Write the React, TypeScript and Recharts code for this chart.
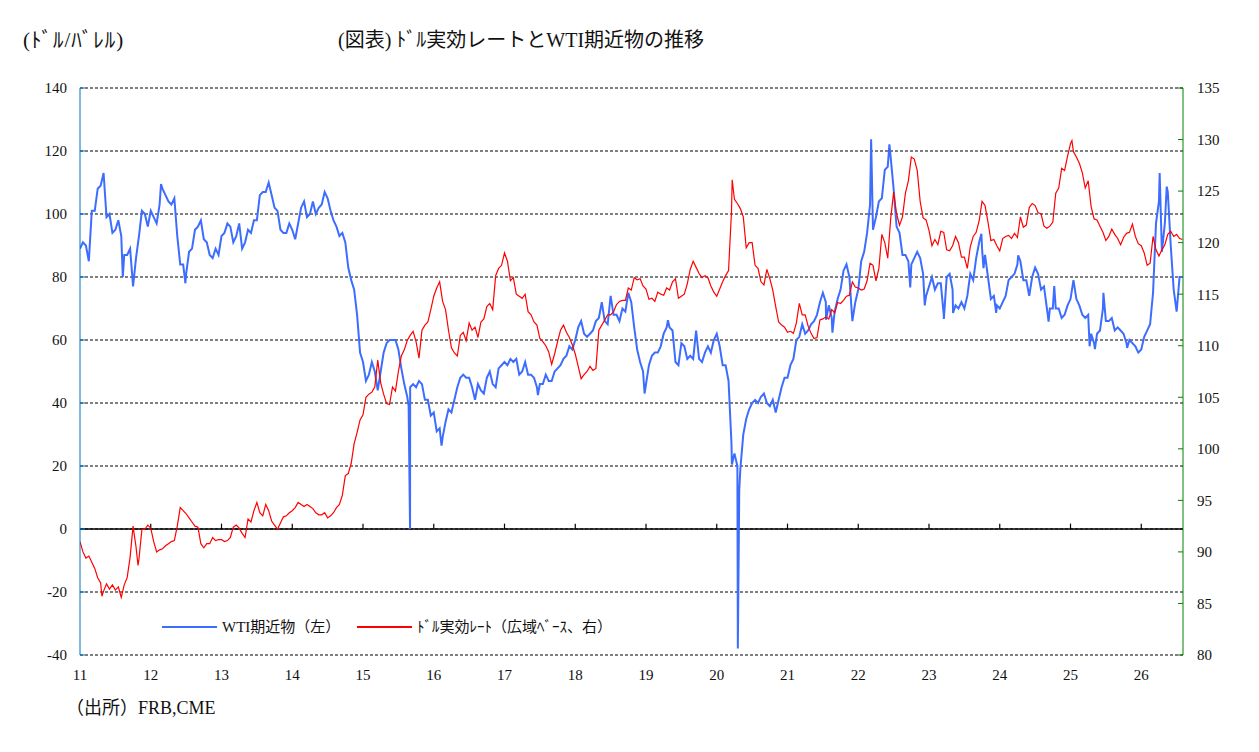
import React from 'react';
import { LineChart, Line, XAxis, YAxis, CartesianGrid, ReferenceLine, Legend } from 'recharts';

const FONT = "'Liberation Serif', 'Noto Sans CJK JP', serif";
const WTI_COLOR = '#3D6DFF';
const USD_COLOR = '#FF0000';
const LEFT_AXIS = '#0070C0';
const RIGHT_AXIS = '#008000';

const YEARS = [11, 12, 13, 14, 15, 16, 17, 18, 19, 20, 21, 22, 23, 24, 25, 26];
const LEFT_TICKS = [-40, -20, 0, 20, 40, 60, 80, 100, 120, 140];
const RIGHT_TICKS = [80, 85, 90, 95, 100, 105, 110, 115, 120, 125, 130, 135];

// WTI front month, $/bbl, one value per half month
const WTI_11 = [89, 91, 90, 85, 101, 101, 108, 109, 113, 99, 100, 94, 95, 98, 93, 87, 87, 89, 77, 86, 93, 101, 100, 96];
const WTI_12 = [101, 99, 97, 103, 108, 106, 104, 103, 105, 93, 84, 84, 81, 88, 89, 95, 96, 98, 92, 91, 87, 86, 89, 87];
const WTI_13 = [93, 94, 97, 96, 91, 93, 97, 89, 91, 95, 94, 98, 98, 106, 107, 107, 110, 106, 102, 101, 95, 94, 94, 97];
const WTI_14 = [95, 92, 97, 102, 104, 99, 100, 104, 100, 102, 103, 107, 105, 101, 98, 96, 93, 94, 91, 83, 79, 76, 68, 56];
const WTI_15 = [53, 47, 49, 53, 50, 44, 50, 56, 59, 60, 60, 60, 57, 51, 46, 42, 45, 46, 45, 47, 46, 41, 41, 36];
const WTI_16 = [37, 31, 32, 29, 34, 38, 37, 41, 45, 48, 49, 48, 48, 45, 41, 46, 44, 43, 48, 50, 46, 45, 51, 52];
const WTI_17 = [53, 52, 54, 53, 54, 49, 50, 53, 49, 49, 48, 45, 46, 46, 49, 47, 47, 50, 51, 52, 54, 55, 58, 57];
const WTI_18 = [60, 64, 66, 62, 61, 62, 63, 66, 67, 72, 66, 65, 74, 68, 68, 66, 70, 69, 75, 72, 64, 57, 53, 50];
const WTI_19 = [46, 52, 55, 56, 56, 58, 62, 64, 64, 63, 53, 52, 59, 58, 54, 55, 54, 63, 54, 53, 56, 58, 56, 60];
const WTI_20 = [62, 58, 52, 52, 47, 27, 24, 20, 19, 30, 35, 38, 40, 41, 40, 42, 43, 40, 39, 41, 37, 41, 45, 48];
const WTI_21 = [48, 52, 54, 60, 61, 65, 62, 63, 65, 66, 68, 72, 75, 72, 71, 67, 69, 73, 76, 82, 84, 80, 66, 72];
const WTI_22 = [76, 85, 88, 94, 103, 95, 99, 104, 105, 114, 115, 118, 108, 96, 94, 87, 87, 85, 84, 86, 88, 86, 81, 74];
const WTI_23 = [77, 80, 76, 78, 78, 68, 80, 81, 76, 71, 70, 72, 70, 74, 81, 79, 86, 91, 89, 87, 80, 73, 74, 71];
const WTI_24 = [70, 72, 74, 79, 80, 81, 84, 85, 79, 79, 74, 80, 83, 81, 76, 77, 70, 70, 70, 70, 70, 67, 68, 71];
const WTI_25 = [73, 79, 73, 71, 68, 67, 68, 62, 59, 62, 63, 70, 66, 66, 67, 63, 64, 63, 62, 59, 60, 59, 58, 56];
const WTI_26 = [57, 61, 63, 65, 75, 97, 104, 88, 97, 107, 90, 76, 69, 80, 80];

// single-day extremes between the half-month points: [year, value]
const WTI_EXTRA = [
  [11.605, 80], [12.145, 109.5], [12.49, 78], [15.645, 39], [15.665, 0], [16.11, 26.5],
  [17.472, 42.5], [18.98, 43], [19.31, 66.3], [20.214, 20.5], [20.298, -37.9], [20.318, 12.4],
  [21.545, 66.4], [21.635, 62.3], [22.182, 123.7], [22.44, 122.1], [22.735, 76.7], [22.94, 71],
  [23.21, 66.7], [23.34, 68.6], [23.74, 93.7], [23.77, 82.8], [23.95, 68.6], [24.26, 86.9],
  [24.69, 65.8], [24.77, 77.1], [25.27, 58], [25.345, 57.1], [25.465, 75], [25.8, 57.5],
  [26.26, 113], [26.36, 108.7],
];

// broad dollar index, one value per half month
const USD_11 = [91.0, 90.0, 89.4, 89.6, 89.0, 88.4, 87.5, 87.0, 86.2, 86.9, 86.4, 86.8, 86.3, 86.6, 85.6, 86.8, 87.5, 89.5, 92.5, 90.5, 89.3, 92.2, 92.2, 92.6];
const USD_12 = [92.3, 91.0, 90.0, 90.2, 90.3, 90.6, 90.8, 91.0, 91.1, 92.5, 94.3, 94.0, 93.7, 93.3, 92.9, 92.5, 92.4, 90.8, 90.4, 90.8, 90.8, 91.4, 91.1, 91.2];
const USD_13 = [91.2, 91.0, 91.1, 91.4, 92.4, 92.6, 92.3, 91.8, 91.4, 93.2, 92.9, 94.0, 94.8, 93.8, 93.5, 94.6, 94.0, 93.0, 92.6, 92.2, 92.8, 93.4, 93.5, 93.8];
const USD_14 = [94.0, 94.3, 94.8, 94.6, 94.4, 94.6, 94.4, 94.2, 93.8, 93.6, 93.6, 93.8, 93.3, 93.5, 93.8, 94.3, 94.6, 95.5, 97.4, 97.6, 98.6, 100.5, 101.6, 102.8];
const USD_15 = [103.3, 105.0, 105.3, 105.5, 106.0, 108.6, 106.4, 105.3, 104.4, 104.3, 106.0, 105.6, 107.5, 109.0, 109.6, 110.5, 111.0, 111.4, 110.4, 108.8, 111.5, 112.0, 112.3, 113.5];
const USD_16 = [114.8, 115.6, 116.2, 114.3, 113.5, 111.5, 109.8, 109.3, 109.0, 111.0, 111.3, 110.5, 112.2, 111.5, 111.8, 110.8, 112.3, 112.6, 113.8, 114.1, 113.5, 116.8, 117.5, 117.8];
const USD_17 = [119.0, 118.2, 116.3, 116.6, 115.0, 114.8, 114.6, 115.0, 113.3, 113.0, 112.3, 112.0, 110.7, 110.4, 110.0, 109.4, 108.2, 109.2, 110.4, 111.5, 112.0, 111.3, 110.8, 110.1];
const USD_18 = [109.2, 108.0, 106.8, 107.2, 107.5, 108.0, 107.6, 107.8, 111.5, 112.0, 112.5, 113.0, 113.0, 113.3, 114.0, 114.3, 114.4, 114.4, 115.6, 115.4, 116.6, 116.4, 116.5, 115.8];
const USD_19 = [115.5, 114.5, 114.6, 114.3, 115.2, 115.0, 114.9, 115.6, 115.4, 116.2, 116.5, 114.6, 114.8, 115.0, 116.0, 117.4, 118.2, 117.6, 117.0, 116.6, 116.8, 116.6, 115.8, 115.2];
const USD_20 = [114.8, 115.5, 116.2, 116.8, 117.3, 123.0, 124.2, 123.8, 123.3, 122.5, 119.5, 120.0, 120.0, 117.8, 117.5, 116.2, 115.9, 117.4, 116.5, 115.4, 113.8, 112.3, 112.0, 111.8];
const USD_21 = [111.3, 111.4, 111.2, 112.2, 114.1, 113.0, 113.0, 111.9, 111.2, 110.7, 110.8, 112.5, 112.6, 112.8, 112.6, 113.5, 113.2, 114.2, 114.1, 114.4, 114.8, 114.9, 116.2, 115.7];
const USD_22 = [115.6, 115.4, 115.5, 116.3, 118.0, 117.8, 116.3, 117.5, 120.8, 120.0, 118.5, 122.3, 124.9, 122.8, 121.7, 122.5, 124.8, 126.0, 128.3, 128.1, 127.0, 124.0, 122.4, 122.2];
const USD_23 = [121.2, 119.7, 120.3, 119.8, 121.1, 121.0, 119.3, 119.2, 119.7, 120.6, 120.0, 118.6, 118.6, 117.5, 119.6, 120.6, 121.0, 122.1, 124.0, 123.6, 122.0, 120.2, 120.3, 119.7];
const USD_24 = [119.2, 120.4, 120.6, 120.7, 120.4, 120.9, 120.5, 122.5, 121.5, 121.7, 123.4, 123.8, 123.6, 122.9, 122.8, 121.6, 121.4, 121.6, 122.0, 124.8, 125.3, 127.2, 127.0, 128.4];
const USD_25 = [129.6, 128.8, 128.3, 127.7, 126.8, 125.3, 126.0, 123.5, 122.3, 122.2, 121.6, 121.0, 120.2, 120.6, 121.3, 120.8, 120.4, 119.8, 120.5, 120.9, 121.0, 121.8, 120.6, 119.9];
const USD_26 = [119.7, 119.0, 117.8, 118.0, 120.6, 119.3, 118.7, 119.3, 119.8, 120.8, 121.1, 120.6, 120.8, 120.4, 120.3];

const USD_EXTRA = [[11.31, 85.7], [11.82, 88.7], [20.218, 126.1], [25.02, 129.9]];

const WTI_BY_YEAR = [WTI_11, WTI_12, WTI_13, WTI_14, WTI_15, WTI_16, WTI_17, WTI_18, WTI_19, WTI_20, WTI_21, WTI_22, WTI_23, WTI_24, WTI_25, WTI_26];
const USD_BY_YEAR = [USD_11, USD_12, USD_13, USD_14, USD_15, USD_16, USD_17, USD_18, USD_19, USD_20, USD_21, USD_22, USD_23, USD_24, USD_25, USD_26];

interface Point {
  t: number;
  v: number;
}

function buildSeries(byYear: number[][], extra: number[][]): Point[] {
  const pts: Point[] = [];
  byYear.forEach((vals, k) => {
    vals.forEach((v, i) => pts.push({ t: YEARS[k] + i / 24, v }));
  });
  extra.forEach(([t, v]) => pts.push({ t, v }));
  return pts.sort((a, b) => a.t - b.t);
}

const wtiData = buildSeries(WTI_BY_YEAR, WTI_EXTRA);
const usdData = buildSeries(USD_BY_YEAR, USD_EXTRA);

const LEGEND_LEFT = [0, 195];

function LeftTick({ x, y, payload }: any) {
  const axisX = x + 13;
  return (
    <g>
      <line x1={axisX} x2={axisX + 5} y1={y} y2={y} stroke={LEFT_AXIS} />
      <text x={x} y={y} dy="0.355em" textAnchor="end" fontSize={15} fontFamily={FONT} fill="#111">
        {payload.value}
      </text>
    </g>
  );
}

function RightTick({ x, y, payload }: any) {
  const axisX = x - 14;
  return (
    <g>
      <line x1={axisX - 5} x2={axisX} y1={y} y2={y} stroke={RIGHT_AXIS} />
      <text x={x} y={y} dy="0.355em" textAnchor="start" fontSize={15} fontFamily={FONT} fill="#111">
        {payload.value}
      </text>
    </g>
  );
}

function LegendContent({ payload }: any) {
  return (
    <div style={{ position: 'relative', height: 20, fontFamily: FONT, fontSize: 15, color: '#111' }}>
      {(payload || []).map((entry: any, i: number) => (
        <div
          key={entry.value}
          style={{
            position: 'absolute',
            left: LEGEND_LEFT[i],
            top: 0,
            display: 'flex',
            alignItems: 'center',
            whiteSpace: 'nowrap',
            lineHeight: '20px',
          }}
        >
          <span style={{ display: 'inline-block', width: 55, borderTop: `2px solid ${entry.color}`, marginRight: 5 }} />
          {entry.value}
        </div>
      ))}
    </div>
  );
}

const textStyle: React.CSSProperties = {
  position: 'absolute',
  fontFamily: FONT,
  color: '#111',
  lineHeight: 1,
  whiteSpace: 'nowrap',
};

export default function App() {
  return (
    <div style={{ position: 'relative', width: 1251, height: 744, background: '#fff' }}>
      <LineChart width={1251} height={744} margin={{ top: 80, right: 16, bottom: 67, left: 0 }}>
        <CartesianGrid yAxisId="left" vertical={false} stroke="#000" strokeDasharray="3 2" />
        <XAxis
          type="number"
          dataKey="t"
          domain={[11, 26.59]}
          ticks={YEARS}
          interval={0}
          allowDataOverflow
          axisLine={false}
          tickLine={false}
          tickSize={4}
          tickMargin={10}
          height={30}
          tick={{ fontSize: 15, fill: '#111', fontFamily: FONT }}
        />
        <YAxis
          yAxisId="left"
          domain={[-40, 140]}
          ticks={LEFT_TICKS}
          interval={0}
          width={72}
          axisLine={{ stroke: LEFT_AXIS }}
          tickLine={false}
          tickSize={5}
          tickMargin={8}
          tick={(props: any) => <LeftTick {...props} />}
        />
        <YAxis
          yAxisId="right"
          orientation="right"
          domain={[80, 135]}
          ticks={RIGHT_TICKS}
          interval={0}
          width={60}
          axisLine={{ stroke: RIGHT_AXIS }}
          tickLine={false}
          tickSize={5}
          tickMargin={9}
          tick={(props: any) => <RightTick {...props} />}
        />
        <ReferenceLine yAxisId="left" y={0} stroke="#000" strokeWidth={1.6} />
        {YEARS.slice(1).map((yr) => (
          <ReferenceLine
            key={yr}
            yAxisId="left"
            segment={[{ x: yr, y: 0 }, { x: yr, y: 1.7 }]}
            stroke="#000"
            strokeWidth={1.2}
          />
        ))}
        <Line
          data={wtiData}
          dataKey="v"
          yAxisId="left"
          name="WTI期近物（左）"
          type="linear"
          stroke={WTI_COLOR}
          strokeWidth={2}
          dot={false}
          isAnimationActive={false}
        />
        <Line
          data={usdData}
          dataKey="v"
          yAxisId="right"
          name="ﾄﾞﾙ実効ﾚｰﾄ（広域ﾍﾞｰｽ、右）"
          type="linear"
          stroke={USD_COLOR}
          strokeWidth={1.2}
          dot={false}
          isAnimationActive={false}
        />
        <Legend
          layout="horizontal"
          verticalAlign="middle"
          align="center"
          wrapperStyle={{ left: 154, top: 609, width: 520 }}
          content={(props: any) => <LegendContent {...props} />}
        />
      </LineChart>
      <div style={{ ...textStyle, left: 15, top: 22, fontSize: 21, letterSpacing: 1 }}>(ﾄﾞﾙ/ﾊﾞﾚﾙ)</div>
      <div style={{ ...textStyle, left: 330, top: 22, fontSize: 20 }}>(図表) ﾄﾞﾙ実効レートとWTI期近物の推移</div>
      <div style={{ ...textStyle, left: 58, top: 691, fontSize: 18 }}>（出所）FRB,CME</div>
    </div>
  );
}
